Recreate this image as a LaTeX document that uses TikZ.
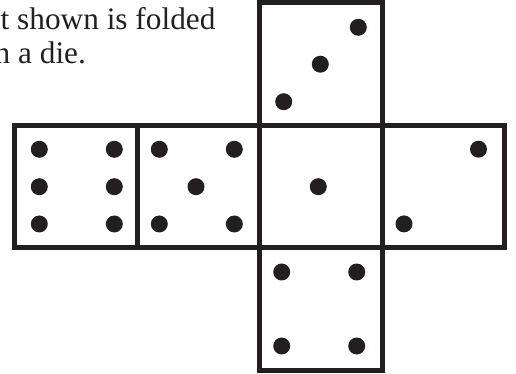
\documentclass[tikz,border=0pt]{standalone}
\usepackage{fontspec}
\setmainfont{Liberation Serif}
\usepackage{tikz}
\usetikzlibrary{positioning}
\definecolor{inkdark}{RGB}{35,31,32}

\begin{document}
\begin{tikzpicture}[
  x=1pt,y=1pt,
  face/.style={draw=inkdark,line width=5pt,minimum size=122.5pt,
               inner sep=0pt,outer sep=0pt},
  pip/.style={fill=inkdark},
  caption/.style={anchor=base west,inner sep=0pt,text=inkdark,
                  font=\fontsize{31.3}{34}\selectfont},
  node distance=0pt
]
\useasboundingbox (0,0) rectangle (516,374);
% clipped question text
\begin{scope}
\clip (0,0) rectangle (516,374);
\node[caption] (line1) at (0.5,344.5) {t shown is folded};
\node[caption] (line2) at (-5.5,310.7) {n a die.};
\end{scope}
% the net
\node[face] (one) at (321,187.3) {};
\node[face,left=of one] (five) {};
\node[face,left=of five] (six) {};
\node[face,right=of one] (two) {};
\node[face,above=of one] (three) {};
\node[face,below=of one] (four) {};
% pips
\fill[pip] ([shift={(-2.7,0)}]one.center) circle (8.5);
\fill[pip] ([shift={(35,37.5)}]two.center) circle (8.5);
\fill[pip] ([shift={(-39.5,-37.2)}]two.center) circle (8.5);
\fill[pip] ([shift={(37.3,36.9)}]three.center) circle (8.5);
\fill[pip] ([shift={(-0.7,0)}]three.center) circle (8.5);
\fill[pip] ([shift={(-37.3,-37.5)}]three.center) circle (8.5);
\fill[pip] ([shift={(-39.3,37.2)}]four.center) circle (8.5);
\fill[pip] ([shift={(35.7,37.2)}]four.center) circle (8.5);
\fill[pip] ([shift={(-39.3,-36.8)}]four.center) circle (8.5);
\fill[pip] ([shift={(35.7,-36.8)}]four.center) circle (8.5);
\fill[pip] ([shift={(-39.2,37.4)}]five.center) circle (8.5);
\fill[pip] ([shift={(35.8,37.4)}]five.center) circle (8.5);
\fill[pip] ([shift={(-2.5,0)}]five.center) circle (8.5);
\fill[pip] ([shift={(-39.2,-37.3)}]five.center) circle (8.5);
\fill[pip] ([shift={(35.8,-37.3)}]five.center) circle (8.5);
\fill[pip] ([shift={(-36.7,37.4)}]six.center) circle (8.5);
\fill[pip] ([shift={(38.3,37.4)}]six.center) circle (8.5);
\fill[pip] ([shift={(-36.7,0)}]six.center) circle (8.5);
\fill[pip] ([shift={(38.3,0)}]six.center) circle (8.5);
\fill[pip] ([shift={(-36.7,-37.3)}]six.center) circle (8.5);
\fill[pip] ([shift={(38.3,-37.3)}]six.center) circle (8.5);
\end{tikzpicture}
\end{document}
